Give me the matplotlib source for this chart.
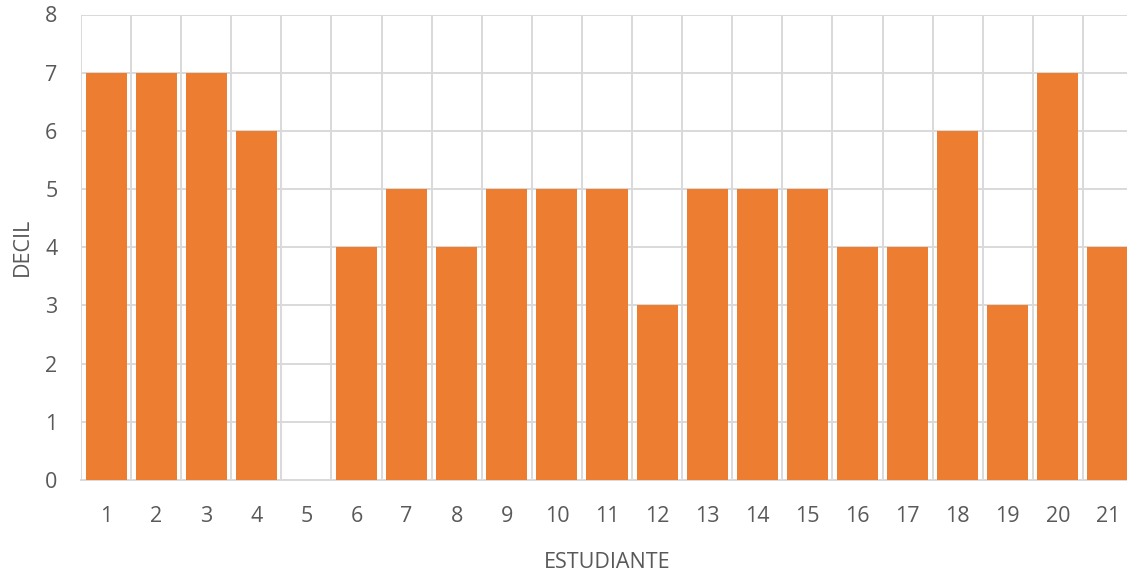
import matplotlib
matplotlib.use("Agg")
import matplotlib.pyplot as plt

students = [str(i) for i in range(1, 22)]
decil = [7, 7, 7, 6, 0, 4, 5, 4, 5, 5, 5, 3, 5, 5, 5, 4, 4, 6, 3, 7, 4]
yticks = [0, 1, 2, 3, 4, 5, 6, 7, 8]

plt.rcParams['font.family'] = ['Open Sans', 'DejaVu Sans']
fig = plt.figure(figsize=(11.27, 5.73), dpi=100)
ax = fig.add_axes([81/1127, 93/573, 1052/1127, 465.5/573])

x = list(range(len(students)))
ax.bar(x, decil, width=0.82, color='#ED7D31', zorder=3)
ax.set_xlim(-0.5, len(students) - 0.5)
ax.set_ylim(0, 8)
ax.set_yticks(yticks)
ax.set_xticks(x)
ax.set_xticklabels(students)
ax.set_xticks([i - 0.5 for i in range(len(students) + 1)], minor=True)

grid_c = '#D9D9D9'
ax.grid(axis='y', which='major', color=grid_c, linewidth=1.4, zorder=0)
ax.grid(axis='x', which='minor', color=grid_c, linewidth=1.4, zorder=0)
ax.grid(axis='x', which='major', visible=False)
for s in ['top', 'right', 'left']:
    ax.spines[s].set_visible(False)
ax.spines['bottom'].set_color(grid_c)
ax.spines['bottom'].set_linewidth(1.4)
ax.tick_params(which='both', length=0, colors='#595959', labelsize=15.5)
ax.tick_params(axis='x', pad=19)
ax.tick_params(axis='y', pad=17)
ax.set_xlabel('ESTUDIANTE', fontsize=15.5, color='#595959', labelpad=18)
ax.set_ylabel('DECIL', fontsize=15.5, color='#595959', labelpad=9)

fig.savefig('out.png', dpi=100)
